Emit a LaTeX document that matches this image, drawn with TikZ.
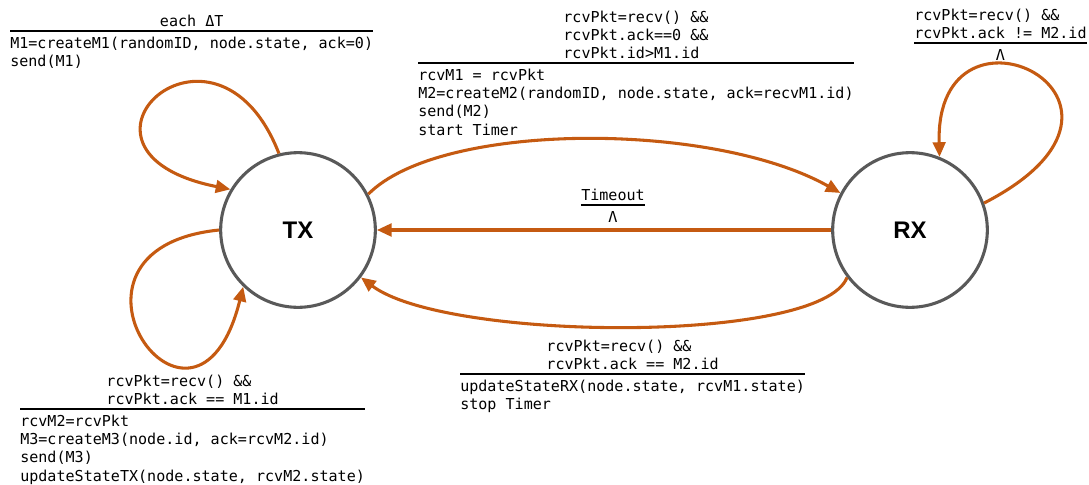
\documentclass[tikz,border=0pt]{standalone}
\usepackage{fontspec}
\setmainfont{Liberation Sans}
\setmonofont{DejaVu Sans Mono}
\usetikzlibrary{arrows.meta, positioning}
\definecolor{edgeorange}{HTML}{C55A11}
\definecolor{stategray}{HTML}{595959}
\tikzstyle{state} = [circle, draw=stategray, line width=2.3pt, minimum size=116pt, inner sep=0pt, font=\fontsize{18}{20}\selectfont\bfseries]
\tikzstyle{arrow} = [draw=edgeorange, line width=2.3pt, -{Triangle[length=11pt, width=9.5pt]}]
\tikzstyle{guard} = [font=\ttfamily\fontsize{11.3}{13.6}\selectfont, align=left, inner sep=0pt]
\tikzstyle{cond} = [guard, inner ysep=3pt]
\tikzstyle{act} = [guard, inner ysep=4.5pt]
\tikzstyle{rule} = [line width=1pt]

\begin{document}
\begin{tikzpicture}[x=0.75pt, y=-0.75pt, node distance=0pt]
    \useasboundingbox (0,0) rectangle (1089,485);

    \node (tx) [state] at (298,230) {TX};
    \node (rx) [state] at (910,230) {RX};

    \node (sendact) [act, anchor=north west] at (10,31) {M1=createM1(randomID, node.state, ack=0)\\send(M1)};
    \node (sendcond) [cond, above=of sendact] {each ΔT};
    \draw [rule] (sendact.north west) -- (sendact.north east);

    \node (m2act) [act, anchor=north west] at (418,63) {rcvM1 = rcvPkt\\M2=createM2(randomID, node.state, ack=recvM1.id)\\send(M2)\\start Timer};
    \node (m2cond) [cond, above=of m2act] {rcvPkt=recv() \&\&\\rcvPkt.ack==0 \&\&\\rcvPkt.id>M1.id};
    \draw [rule] (m2act.north west) -- (m2act.north east);

    \node (rxcond) [cond, anchor=south west] at (914,43) {rcvPkt=recv() \&\&\\rcvPkt.ack != M2.id};
    \node (rxact) [act, below=of rxcond] {Λ};
    \draw [rule] (rxcond.south west) -- (rxcond.south east);

    \node (tocond) [cond, anchor=south] at (613,205) {Timeout};
    \node (toact) [act, below=of tocond] {Λ};
    \draw [rule] (tocond.south west) -- (tocond.south east);

    \node (m3act) [act, anchor=north west] at (460,374) {updateStateRX(node.state, rcvM1.state)\\stop Timer};
    \node (m3cond) [cond, above=of m3act] {rcvPkt=recv() \&\&\\rcvPkt.ack == M2.id};
    \draw [rule] (m3act.north west) -- (m3act.north east);

    \node (txact) [act, anchor=north west] at (20,409) {rcvM2=rcvPkt\\M3=createM3(node.id, ack=rcvM2.id)\\send(M3)\\updateStateTX(node.state, rcvM2.state)};
    \node (txcond) [cond, above=of txact] {rcvPkt=recv() \&\&\\rcvPkt.ack == M1.id};
    \draw [rule] (txact.north west) -- (txact.north east);

    \draw [arrow] (tx.104) .. controls +(-64,-164) and +(-190,-38) .. (tx.149);
    \draw [arrow] (tx.180) .. controls +(-188,19) and +(-48,193) .. (tx.226);
    \draw [arrow] (tx.27) .. controls +(72,-73) and +(-128,-72) .. (rx.152);
    \draw [arrow] (rx.west) -- (tx.east);
    \draw [arrow] (rx.217) .. controls +(-26,67) and +(85,64) .. (tx.323);
    \draw [arrow] (rx.20) .. controls +(200,-103) and +(-5,-177) .. (rx.68);

\end{tikzpicture}
\end{document}
